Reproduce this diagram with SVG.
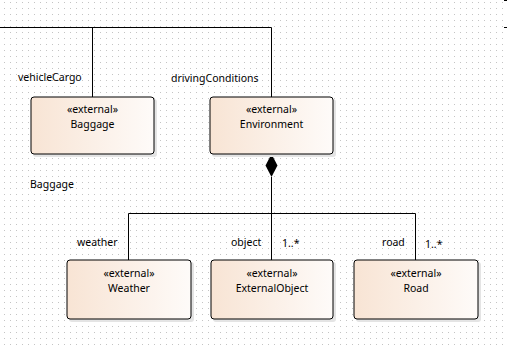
<svg xmlns="http://www.w3.org/2000/svg" width="507" height="345" viewBox="0 0 507 345">
<defs>
<pattern id="grid" x="0" y="0" width="6" height="6" patternUnits="userSpaceOnUse">
<rect x="4" y="2" width="1" height="1" fill="#c4c4c4"/>
</pattern>
<linearGradient id="boxfill" x1="0" y1="0" x2="1" y2="0">
<stop offset="0" stop-color="#f8e4d4"/>
<stop offset="1" stop-color="#fefbf9"/>
</linearGradient>
<style>
.box{fill:url(#boxfill);stroke:#000;stroke-width:1}
.shadow{fill:#e4e4e4}
.t{font-family:"Noto Sans","Open Sans",sans-serif;font-size:10.5px;fill:#000;text-anchor:middle}
.l{font-family:"Noto Sans","Open Sans",sans-serif;font-size:10.5px;fill:#000}
.c{fill:none;stroke:#000;stroke-width:1}
</style>
</defs>
<rect width="507" height="345" fill="#fff"/>
<rect width="507" height="345" fill="url(#grid)"/>
<g id="connectors">
<path class="c" d="M0 27.5H271.5M92.5 27.5V97M271.5 27.5V97"/>
<path class="c" d="M271.5 177V260M128.5 260V213.5H415.5V260"/>
<polygon points="271.5,154 277.5,165.5 271.5,177 265.5,165.5" fill="#000"/>
<path class="c" d="M504 0.5H507M504 27.5H507"/>
<text class="l" x="18" y="81">vehicleCargo</text>
<text class="l" x="171" y="82">drivingConditions</text>
<text class="l" x="30" y="188">Baggage</text>
<text class="l" x="77" y="246">weather</text>
<text class="l" x="231" y="246">object</text>
<text class="l" x="282" y="247">1..*</text>
<text class="l" x="382" y="246">road</text>
<text class="l" x="425" y="248">1..*</text>
</g>
<g id="Baggage">
<rect class="shadow" x="33" y="99" width="124" height="58" rx="3"/>
<rect class="box" x="31" y="97" width="123" height="57" rx="3"/>
<text class="t" x="92.5" y="113">«external»</text>
<text class="t" x="92.5" y="128">Baggage</text>
</g>
<g id="Environment">
<rect class="shadow" x="212" y="99" width="124" height="58" rx="3"/>
<rect class="box" x="210" y="97" width="123" height="57" rx="3"/>
<text class="t" x="271.5" y="113">«external»</text>
<text class="t" x="271.5" y="128">Environment</text>
</g>
<g id="Weather">
<rect class="shadow" x="69" y="262" width="125" height="60" rx="3"/>
<rect class="box" x="67" y="260" width="124" height="59" rx="3"/>
<text class="t" x="129" y="277">«external»</text>
<text class="t" x="129" y="292">Weather</text>
</g>
<g id="ExternalObject">
<rect class="shadow" x="213" y="262" width="123" height="60" rx="3"/>
<rect class="box" x="211" y="260" width="122" height="59" rx="3"/>
<text class="t" x="272" y="277">«external»</text>
<text class="t" x="272" y="292">ExternalObject</text>
</g>
<g id="Road">
<rect class="shadow" x="356" y="262" width="125" height="60" rx="3"/>
<rect class="box" x="354" y="260" width="124" height="59" rx="3"/>
<text class="t" x="416" y="277">«external»</text>
<text class="t" x="416" y="292">Road</text>
</g>
</svg>
